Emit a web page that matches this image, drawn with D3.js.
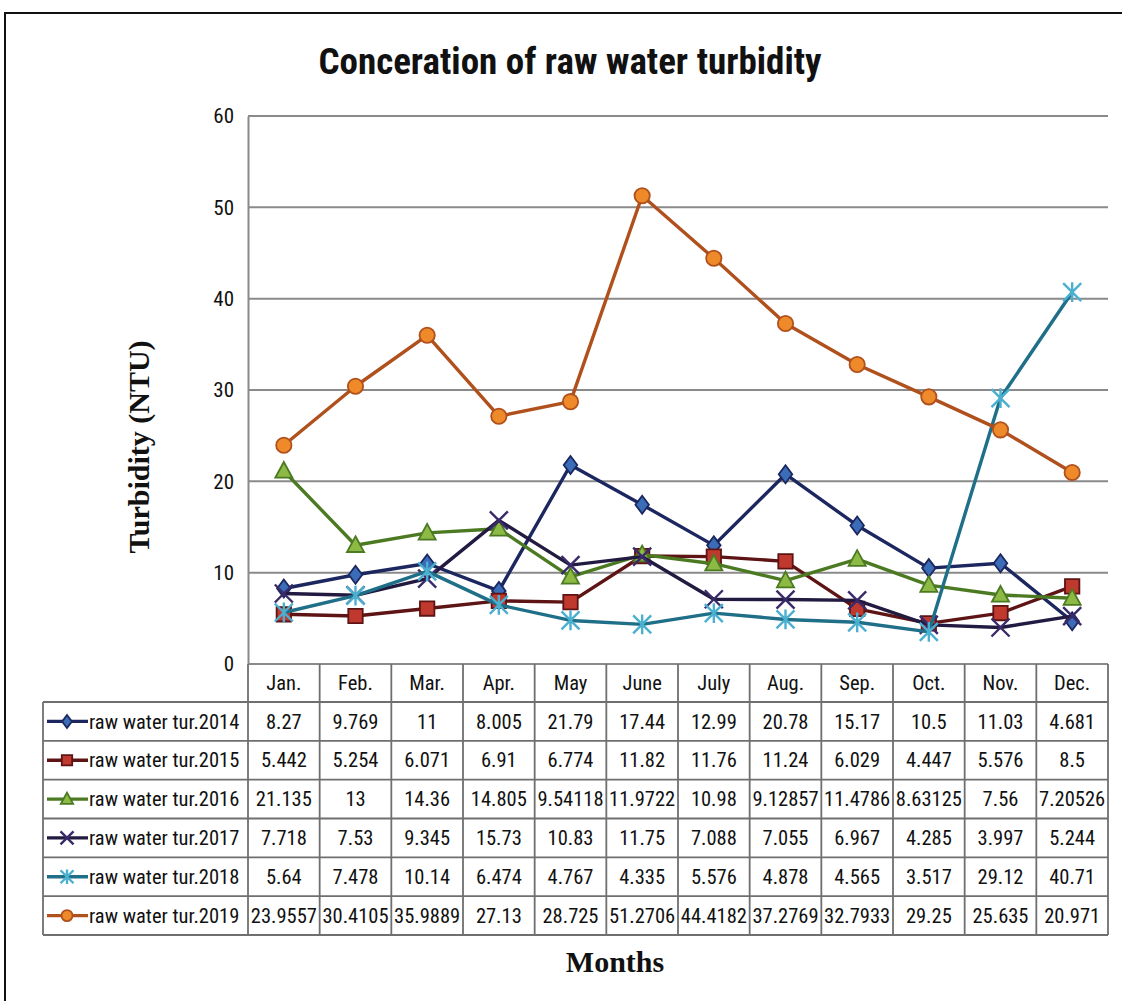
<!DOCTYPE html>
<html>
<head>
<meta charset="utf-8">
<script src="https://cdn.jsdelivr.net/npm/d3@7"></script>
<style>
  html, body { margin: 0; padding: 0; background: #fff; }
  svg { display: block; }
</style>
</head>
<body>
<svg id="chart" width="1122" height="1001"></svg>
<script>
const months = ["Jan.", "Feb.", "Mar.", "Apr.", "May", "June", "July", "Aug.", "Sep.", "Oct.", "Nov.", "Dec."];
const yTicks = [0, 10, 20, 30, 40, 50, 60];
const seriesNames = ["raw water tur.2014", "raw water tur.2015", "raw water tur.2016", "raw water tur.2017", "raw water tur.2018", "raw water tur.2019"];
const v2014 = ["8.27", "9.769", "11", "8.005", "21.79", "17.44", "12.99", "20.78", "15.17", "10.5", "11.03", "4.681"];
const v2015 = ["5.442", "5.254", "6.071", "6.91", "6.774", "11.82", "11.76", "11.24", "6.029", "4.447", "5.576", "8.5"];
const v2016 = ["21.135", "13", "14.36", "14.805", "9.54118", "11.9722", "10.98", "9.12857", "11.4786", "8.63125", "7.56", "7.20526"];
const v2017 = ["7.718", "7.53", "9.345", "15.73", "10.83", "11.75", "7.088", "7.055", "6.967", "4.285", "3.997", "5.244"];
const v2018 = ["5.64", "7.478", "10.14", "6.474", "4.767", "4.335", "5.576", "4.878", "4.565", "3.517", "29.12", "40.71"];
const v2019 = ["23.9557", "30.4105", "35.9889", "27.13", "28.725", "51.2706", "44.4182", "37.2769", "32.7933", "29.25", "25.635", "20.971"];
const seriesValues = [v2014, v2015, v2016, v2017, v2018, v2019];

const styles = [
  { line: "#1c2760", fill: "#3a6cb8", stroke: "#1c2760", shape: "diamond" },
  { line: "#5e1414", fill: "#c0392f", stroke: "#5e1414", shape: "square" },
  { line: "#4c7a22", fill: "#8cba45", stroke: "#4c7a22", shape: "triangle" },
  { line: "#221a40", fill: "none", stroke: "#3a2a6a", shape: "x" },
  { line: "#1f6f88", fill: "none", stroke: "#4bb0d0", shape: "asterisk" },
  { line: "#b0501c", fill: "#ee8a2a", stroke: "#b0501c", shape: "circle" }
];

const svg = d3.select("#chart");
const W = 1122, H = 1001;
const plotL = 248, plotR = 1108, plotT = 116, plotB = 664;
const headerB = 702, tableB = 935, legendL = 43;

const x = d3.scaleBand().domain(months).range([plotL, plotR]);
const y = d3.scaleLinear().domain([0, 60]).range([plotB, plotT]);
const rowY = d3.scaleBand().domain(seriesNames).range([headerB, tableB]);

const tableFont = "'Liberation Sans Narrow', 'Arial Narrow', 'Roboto Condensed', 'Liberation Sans', sans-serif";
const serif = "'Liberation Serif', 'Times New Roman', serif";

// outer frame
svg.append("rect").attr("x", 5).attr("y", 13).attr("width", W + 20).attr("height", H + 20)
  .attr("fill", "none").attr("stroke", "#111").attr("stroke-width", 2);

// title
svg.append("text").attr("x", 570).attr("y", 74).attr("text-anchor", "middle")
  .attr("font-family", tableFont).attr("font-weight", "bold").attr("font-size", 37)
  .attr("fill", "#111").text("Conceration of raw water turbidity");

// gridlines
svg.append("g").selectAll("line").data(yTicks.filter(t => t > 0)).join("line")
  .attr("x1", plotL).attr("x2", plotR).attr("y1", d => y(d)).attr("y2", d => y(d))
  .attr("stroke", "#8a8a8a").attr("stroke-width", 2);

// y axis
const yAxis = d3.axisLeft(y).tickValues(yTicks).tickSize(0).tickPadding(14);
const gy = svg.append("g").attr("transform", `translate(${plotL},0)`).call(yAxis);
gy.select(".domain").attr("stroke", "#8a8a8a").attr("stroke-width", 2);
gy.selectAll("text").attr("font-family", tableFont).attr("font-size", 21).attr("fill", "#111");

// y label
svg.append("text").attr("transform", "translate(149,447) rotate(-90)").attr("text-anchor", "middle")
  .attr("font-family", serif).attr("font-weight", "bold")
  .attr("font-size", 30).attr("fill", "#111").text("Turbidity (NTU)");

// table grid
const tg = svg.append("g").attr("stroke", "#6f6f6f").attr("stroke-width", 1.8).attr("fill", "none");
tg.append("line").attr("x1", plotL).attr("x2", plotR).attr("y1", plotB).attr("y2", plotB).attr("stroke", "#8a8a8a").attr("stroke-width", 2);
tg.append("line").attr("x1", legendL).attr("x2", plotR).attr("y1", headerB).attr("y2", headerB);
seriesNames.forEach(n => {
  tg.append("line").attr("x1", legendL).attr("x2", plotR)
    .attr("y1", rowY(n) + rowY.bandwidth()).attr("y2", rowY(n) + rowY.bandwidth());
});
months.forEach(m => {
  tg.append("line").attr("x1", x(m)).attr("x2", x(m)).attr("y1", plotB).attr("y2", tableB);
});
tg.append("line").attr("x1", plotR).attr("x2", plotR).attr("y1", plotB).attr("y2", tableB);
tg.append("line").attr("x1", legendL).attr("x2", legendL).attr("y1", headerB).attr("y2", tableB);

// header labels
svg.append("g").selectAll("text").data(months).join("text")
  .attr("x", d => x(d) + x.bandwidth() / 2).attr("y", (plotB + headerB) / 2)
  .attr("dy", "0.35em").attr("text-anchor", "middle")
  .attr("font-family", tableFont).attr("font-size", 20.5).attr("fill", "#111").text(d => d);

// cell values
seriesNames.forEach((n, i) => {
  svg.append("g").selectAll("text").data(seriesValues[i]).join("text")
    .attr("x", (d, j) => x(months[j]) + x.bandwidth() / 2)
    .attr("y", rowY(n) + rowY.bandwidth() / 2).attr("dy", "0.35em")
    .attr("text-anchor", "middle").attr("font-family", tableFont).attr("font-size", 20.5)
    .attr("fill", "#111").text(d => d);
});

function markerPath(shape, s) {
  const p = d3.path();
  switch (shape) {
    case "diamond": p.moveTo(0, -s); p.lineTo(s * 0.75, 0); p.lineTo(0, s); p.lineTo(-s * 0.75, 0); p.closePath(); break;
    case "square": p.rect(-s * 0.8, -s * 0.8, s * 1.6, s * 1.6); break;
    case "triangle": p.moveTo(0, -s); p.lineTo(s * 0.95, s * 0.75); p.lineTo(-s * 0.95, s * 0.75); p.closePath(); break;
    case "circle": p.arc(0, 0, s * 0.85, 0, 2 * Math.PI); break;
    case "x": p.moveTo(-s, -s); p.lineTo(s, s); p.moveTo(s, -s); p.lineTo(-s, s); break;
    case "asterisk": p.moveTo(-s, -s); p.lineTo(s, s); p.moveTo(s, -s); p.lineTo(-s, s); p.moveTo(0, -s * 1.1); p.lineTo(0, s * 1.1); break;
  }
  return p.toString();
}

function drawMarker(g, st, cx, cy, s) {
  const open = st.shape === "x" || st.shape === "asterisk";
  g.append("path").attr("d", markerPath(st.shape, s)).attr("transform", `translate(${cx},${cy})`)
    .attr("fill", open ? "none" : st.fill).attr("stroke", st.stroke)
    .attr("stroke-width", open ? 2.4 : 1.8);
}

const line = d3.line().x((d, j) => x(months[j]) + x.bandwidth() / 2).y(d => y(+d));
seriesNames.forEach((n, i) => {
  const st = styles[i];
  const g = svg.append("g");
  g.append("path").datum(seriesValues[i]).attr("d", line).attr("fill", "none")
    .attr("stroke", st.line).attr("stroke-width", 3.4).attr("stroke-linejoin", "round");
  seriesValues[i].forEach((v, j) => drawMarker(g, st, x(months[j]) + x.bandwidth() / 2, y(+v), 9));
});

// legend keys in table
seriesNames.forEach((n, i) => {
  const st = styles[i];
  const cy = rowY(n) + rowY.bandwidth() / 2;
  const g = svg.append("g");
  g.append("line").attr("x1", 47).attr("x2", 88).attr("y1", cy).attr("y2", cy)
    .attr("stroke", st.line).attr("stroke-width", 3.4);
  drawMarker(g, st, 67, cy, 6.5);
  g.append("text").attr("x", 89).attr("y", cy).attr("dy", "0.35em")
    .attr("font-family", tableFont).attr("font-size", 20.5).attr("fill", "#111").text(n);
});

// x label
svg.append("text").attr("x", 615).attr("y", 972).attr("text-anchor", "middle")
  .attr("font-family", serif).attr("font-weight", "bold")
  .attr("font-size", 30).attr("fill", "#111").text("Months");
</script>
</body>
</html>
